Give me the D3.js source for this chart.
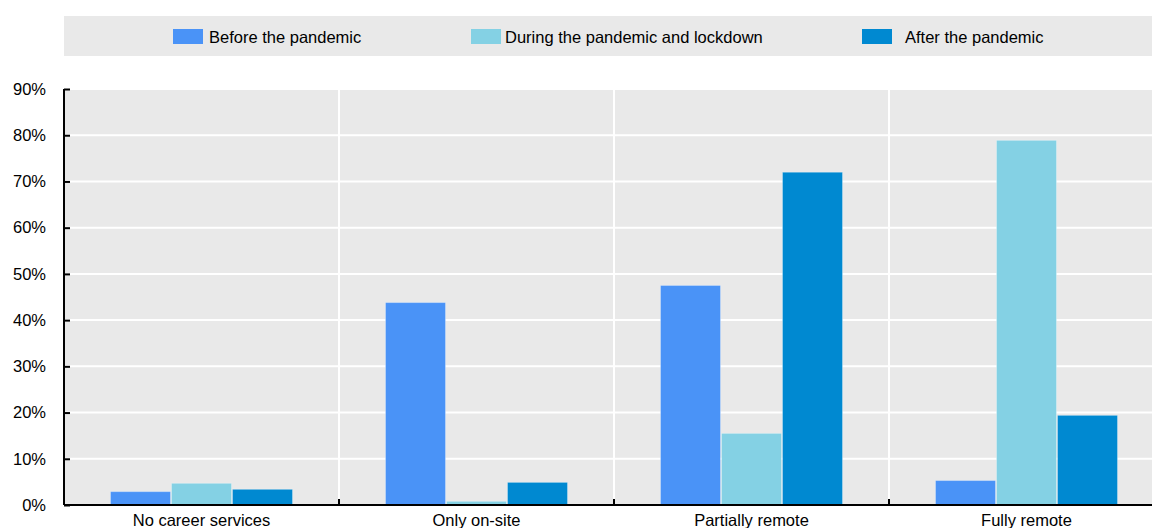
<!DOCTYPE html>
<html>
<head>
<meta charset="utf-8">
<script src="https://cdn.jsdelivr.net/npm/d3@7"></script>
<style>
  body { margin: 0; background: #fff; overflow: hidden; }
  svg text { font-family: "Liberation Sans", Arial, sans-serif; fill: #000; }
</style>
</head>
<body>
<div id="chart"></div>
<script>
// chart values
const categories = ["No career services", "Only on-site", "Partially remote", "Fully remote"];
const seriesNames = ["Before the pandemic", "During the pandemic and lockdown", "After the pandemic"];
const beforeValues = [3.0, 43.9, 47.6, 5.4];
const duringValues = [4.8, 0.9, 15.6, 79.0];
const afterValues = [3.5, 5.0, 72.1, 19.5];
const yTicks = [0, 10, 20, 30, 40, 50, 60, 70, 80, 90];
const colors = ["#4a93f7", "#84d1e4", "#0089d1"];

const seriesValues = [beforeValues, duringValues, afterValues];

let width = 1152, height = 528;
let margin = {top: 89, left: 64, bottom: 23};
let plotW = 1100, plotH = height - margin.top - margin.bottom;

let svg = d3.select("#chart").append("svg")
    .attr("width", width)
    .attr("height", height);

// legend strip
let legend = svg.append("g");
legend.append("rect")
    .attr("x", 64).attr("y", 16)
    .attr("width", width - 64).attr("height", 40)
    .attr("fill", "#e9e9e9");

let legendX = [173, 471, 862];
let legendTextX = [209, 505, 905];
seriesNames.forEach(function(name, i) {
    legend.append("rect")
        .attr("x", legendX[i]).attr("y", 29)
        .attr("width", 30).attr("height", 15)
        .attr("fill", colors[i]);
    legend.append("text")
        .attr("x", legendTextX[i]).attr("y", 43)
        .style("font-size", "16.5px")
        .text(name);
});

let g = svg.append("g")
    .attr("transform", `translate(${margin.left}, ${margin.top})`);

// scales
let x0 = d3.scaleBand()
    .domain(categories)
    .range([0, plotW])
    .paddingInner(0)
    .paddingOuter(0);

let x1 = d3.scaleBand()
    .domain(d3.range(seriesNames.length))
    .range([46, x0.bandwidth() - 46]);

let y = d3.scaleLinear()
    .domain([0, 90])
    .range([plotH, 0]);

// plot background
g.append("rect")
    .attr("x", 0).attr("y", 0)
    .attr("width", plotW).attr("height", plotH)
    .attr("fill", "#e9e9e9");

// horizontal grid
g.append("g")
    .selectAll("line")
    .data(yTicks.slice(1))
    .join("line")
    .attr("x1", 0).attr("x2", plotW)
    .attr("y1", d => y(d)).attr("y2", d => y(d))
    .attr("stroke", "#fff")
    .attr("stroke-width", 2);

// vertical separators between categories
g.append("g")
    .selectAll("line")
    .data(categories.slice(1))
    .join("line")
    .attr("x1", d => x0(d)).attr("x2", d => x0(d))
    .attr("y1", 0).attr("y2", plotH)
    .attr("stroke", "#fff")
    .attr("stroke-width", 2);

// bars
let groups = g.selectAll(".grp")
    .data(categories)
    .join("g")
    .attr("class", "grp")
    .attr("transform", d => `translate(${x0(d)}, 0)`);

groups.selectAll("rect")
    .data((d, ci) => seriesValues.map((vals, si) => ({si: si, v: vals[ci]})))
    .join("rect")
    .attr("x", d => x1(d.si) + 0.5)
    .attr("width", x1.bandwidth() - 1)
    .attr("y", d => y(d.v) + 0.5)
    .attr("height", d => plotH - y(d.v) - 0.5)
    .attr("fill", d => colors[d.si])
    .attr("stroke", "#fff")
    .attr("stroke-opacity", 0.3)
    .attr("stroke-width", 1);

// y axis
let yAxis = d3.axisLeft(y)
    .tickValues(yTicks)
    .tickSize(-5)
    .tickPadding(18)
    .tickFormat(d => d + "%");

let yAxisGroup = g.append("g").call(yAxis);
yAxisGroup.select(".domain").attr("stroke", "#000").attr("stroke-width", 2)
    .attr("d", `M0,${plotH}V0`);
yAxisGroup.selectAll(".tick line").attr("stroke", "#000").attr("stroke-width", 2).attr("x1", 0).attr("x2", 6);
yAxisGroup.selectAll(".tick text")
    .attr("x", -18)
    .style("font-size", "16.5px")
    .style("font-family", "'Liberation Sans', Arial, sans-serif");

// x axis
g.append("line")
    .attr("x1", 0).attr("x2", plotW)
    .attr("y1", plotH).attr("y2", plotH)
    .attr("stroke", "#000").attr("stroke-width", 2);

g.append("g")
    .selectAll("line")
    .data(categories.slice(1))
    .join("line")
    .attr("x1", d => x0(d)).attr("x2", d => x0(d))
    .attr("y1", plotH).attr("y2", plotH - 6)
    .attr("stroke", "#000").attr("stroke-width", 2);

g.append("g")
    .selectAll("text")
    .data(categories)
    .join("text")
    .attr("x", d => x0(d) + x0.bandwidth() / 2)
    .attr("y", plotH + 21)
    .attr("text-anchor", "middle")
    .style("font-size", "16.5px")
    .text(d => d);
</script>
</body>
</html>
